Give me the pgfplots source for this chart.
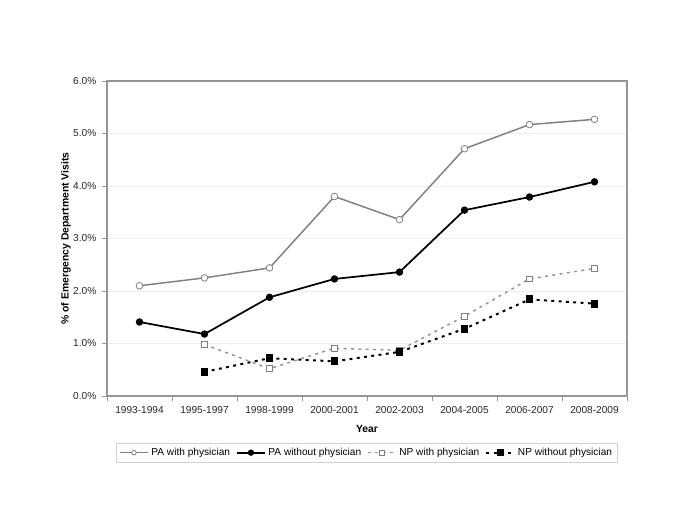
\documentclass[border=0pt]{standalone}
\usepackage{pgfplots}
\pgfplotsset{compat=1.18}
\usepackage{fontspec}
\setmainfont{Liberation Sans}
\definecolor{pagray}{RGB}{128,128,128}
\definecolor{gridc}{RGB}{238,238,238}
\definecolor{framec}{RGB}{150,150,150}
\begin{document}
\begin{tikzpicture}
\path[use as bounding box] (0pt,0pt) rectangle (513.75pt,396.75pt);
\begin{axis}[
  at={(80.25pt,99.75pt)}, anchor=south west,
  width=390pt, height=236.25pt, scale only axis,
  xmin=-0.5, xmax=7.5, ymin=0, ymax=6,
  xtick={0,...,7},
  xticklabels={1993-1994,1995-1997,1998-1999,2000-2001,2002-2003,2004-2005,2006-2007,2008-2009},
  major x tick style={draw=none},
  minor xtick={-0.5,0.5,1.5,2.5,3.5,4.5,5.5,6.5,7.5},
  minor x tick style={framec, line width=0.6pt},
  minor tick length=3.5pt,
  ytick={0,1,2,3,4,5,6},
  yticklabels={0.0\%,1.0\%,2.0\%,3.0\%,4.0\%,5.0\%,6.0\%},
  major y tick style={framec, line width=0.6pt},
  major tick length=3.5pt,
  tick align=outside, tick pos=left,
  ymajorgrids, grid style={gridc, line width=0.4pt},
  axis line style={framec, line width=0.9pt},
  tick label style={font=\fontsize{7.6}{9}\selectfont, text=black!85},
  xticklabel style={yshift=-1pt},
  yticklabel style={xshift=-1pt},
  xlabel={\textbf{Year}},
  xlabel style={at={(axis description cs:0.5,-0.105)}, anchor=center, font=\fontsize{7.8}{9}\selectfont},
  ylabel={\textbf{\% of Emergency Department Visits}},
  ylabel style={at={(axis description cs:-0.079,0.5)}, anchor=center, rotate=0, font=\fontsize{7.8}{9}\selectfont},
  legend columns=4,
  legend style={at={(axis description cs:0.5,-0.149)}, anchor=north, draw=gray!35, line width=0.6pt,
    font=\fontsize{7.6}{9}\selectfont, inner xsep=2pt, inner ysep=1.5pt,
    /tikz/every even column/.append style={column sep=2.5pt}},
  legend cell align=left,
  legend image code/.code={\draw[mark repeat=2,mark phase=2,#1] plot coordinates {(0pt,0pt) (10.5pt,0pt) (21pt,0pt)};},
  legend image post style={mark size=1.7pt},
]
\addplot[pagray, line width=1.1pt, mark=*, mark size=2.5pt, mark options={fill=white, draw=pagray, line width=0.6pt}]
  coordinates {(0,2.10) (1,2.25) (2,2.44) (3,3.80) (4,3.36) (5,4.71) (6,5.17) (7,5.27)};
\addlegendentry{PA with physician}
\addplot[black, line width=1.3pt, mark=*, mark size=2.1pt, mark options={fill=black}]
  coordinates {(0,1.41) (1,1.18) (2,1.88) (3,2.23) (4,2.36) (5,3.54) (6,3.79) (7,4.08)};
\addlegendentry{PA without physician}
\addplot[pagray!85, line width=1.1pt, dash pattern=on 2.2pt off 3.3pt, mark=square*, mark size=2.2pt, mark options={solid, fill=white, draw=pagray, line width=0.6pt}]
  coordinates {(1,0.98) (2,0.52) (3,0.91) (4,0.87) (5,1.52) (6,2.23) (7,2.43)};
\addlegendentry{NP with physician}
\addplot[black, line width=1.5pt, dash pattern=on 2.2pt off 3.3pt, mark=square*, mark size=2.2pt, mark options={solid, fill=black}]
  coordinates {(1,0.46) (2,0.72) (3,0.66) (4,0.84) (5,1.28) (6,1.84) (7,1.76)};
\addlegendentry{NP without physician}
\end{axis}
\end{tikzpicture}
\end{document}
